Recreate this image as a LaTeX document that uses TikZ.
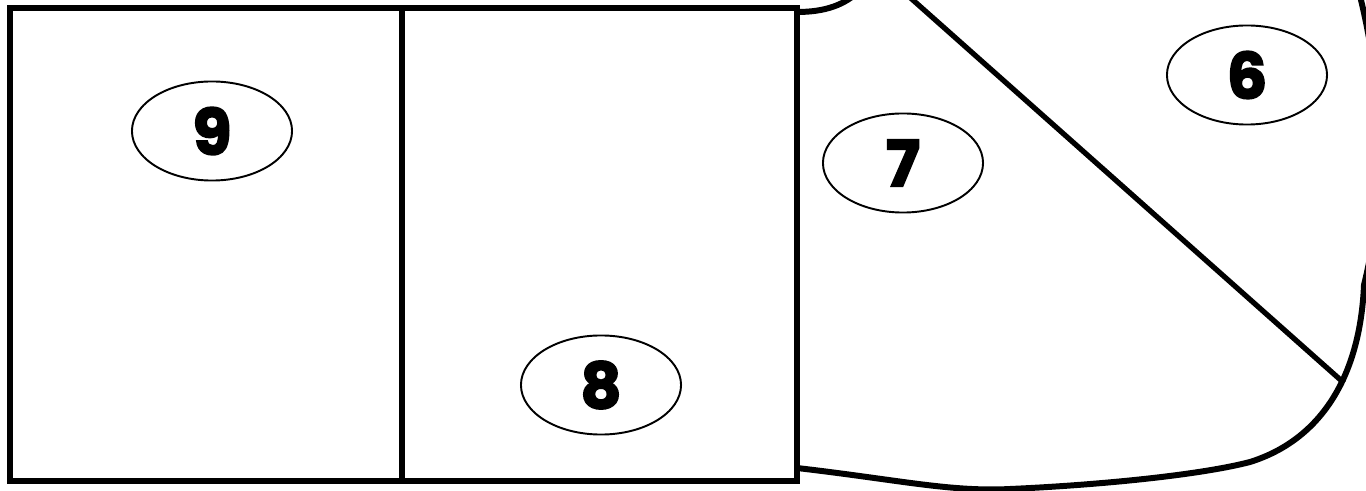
\documentclass[tikz,border=0pt]{standalone}
\usepackage{fontspec}
\newfontfamily\numfont{Poppins}[BoldFeatures={FakeBold=3}]
\usetikzlibrary{shapes.geometric}

\begin{document}
\begin{tikzpicture}[
  x=0.01cm,y=-0.01cm,
  wall/.style={draw=black,line width=1.7pt,line join=miter},
  zone/.style={ellipse,draw=black,line width=0.55pt,minimum width=1.6cm,
    minimum height=0.99cm,inner sep=0pt,
    font=\numfont\bfseries\fontsize{18}{18}\selectfont}]
\useasboundingbox (0,0) rectangle (1366,491);
\clip (0,0) rectangle (1366,491);
% rooms on the left
\draw[wall] (10,8) rectangle (797,481);
\draw[wall] (402,8) -- (402,481);
% curved outline on the right
\draw[wall] (797,12) .. controls (825,12) and (845,5) .. (860,-10);
\draw[wall] (797,468) .. controls (900,480) and (950,492) .. (1010,489)
  .. controls (1100,485) and (1200,475) .. (1250,462)
  .. controls (1320,440) and (1360,378) .. (1364,285)
  .. controls (1385,200) and (1385,100) .. (1361,0) -- (1358,-20);
\draw[wall,line width=1.5pt] (905,-7) -- (1344,383);
% zone labels
\node[zone] (z9) at (212,131) {9};
\node[zone] (z8) at (601,385) {8};
\node[zone] (z7) at (903,163) {7};
\node[zone] (z6) at (1247,75) {6};
\end{tikzpicture}
\end{document}
